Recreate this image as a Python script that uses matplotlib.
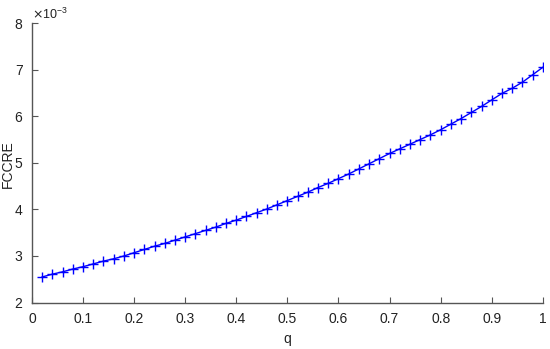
import matplotlib
matplotlib.use("Agg")
import matplotlib.pyplot as plt
from matplotlib.ticker import ScalarFormatter, FuncFormatter
import numpy as np

# data (FCCRE in units of 1e-3)
q = [0.02, 0.04, 0.06, 0.08, 0.10, 0.12, 0.14, 0.16, 0.18, 0.20,
     0.22, 0.24, 0.26, 0.28, 0.30, 0.32, 0.34, 0.36, 0.38, 0.40,
     0.42, 0.44, 0.46, 0.48, 0.50, 0.52, 0.54, 0.56, 0.58, 0.60,
     0.62, 0.64, 0.66, 0.68, 0.70, 0.72, 0.74, 0.76, 0.78, 0.80,
     0.82, 0.84, 0.86, 0.88, 0.90, 0.92, 0.94, 0.96, 0.98, 1.00]
fccre = [2.55, 2.61, 2.66, 2.72, 2.77, 2.83, 2.89, 2.94, 3.00, 3.07,
         3.14, 3.21, 3.27, 3.34, 3.41, 3.48, 3.55, 3.62, 3.70, 3.77,
         3.85, 3.93, 4.01, 4.10, 4.19, 4.28, 4.37, 4.47, 4.56, 4.66,
         4.76, 4.87, 4.98, 5.09, 5.20, 5.30, 5.40, 5.50, 5.60, 5.71,
         5.83, 5.95, 6.08, 6.21, 6.35, 6.49, 6.60, 6.73, 6.89, 7.05]
xticks = [0, 0.1, 0.2, 0.3, 0.4, 0.5, 0.6, 0.7, 0.8, 0.9, 1]
yticks = [2e-3, 3e-3, 4e-3, 5e-3, 6e-3, 7e-3, 8e-3]

plt.rcParams['font.family'] = ['Liberation Sans', 'DejaVu Sans']
plt.rcParams['font.size'] = 10

fig = plt.figure(figsize=(5.5, 3.49), dpi=100)
ax = fig.add_axes([0.058, 0.133, 0.929, 0.801])

ax.plot(q, np.array(fccre) * 1e-3, color='#0000ff', linewidth=1.0,
        marker='+', markersize=7, markeredgewidth=1.0)

ax.set_xlim(0, 1)
ax.set_ylim(2e-3, 8e-3)
ax.set_xticks(xticks)
ax.set_yticks(yticks)
ax.xaxis.set_major_formatter(FuncFormatter(lambda v, p: '%g' % v))
fmt = ScalarFormatter(useMathText=True)
fmt.set_powerlimits((0, 0))
ax.yaxis.set_major_formatter(fmt)

for s in ['top', 'right']:
    ax.spines[s].set_visible(False)
for s in ['left', 'bottom']:
    ax.spines[s].set_color('#555555')
    ax.spines[s].set_linewidth(1.0)
ax.tick_params(direction='in', length=4, color='#555555', labelcolor='#222222')
ax.tick_params(axis='x', pad=7)
ax.tick_params(axis='y', pad=6)
ax.yaxis.get_offset_text().set_color('#222222')
ax.yaxis.get_offset_text().set_fontsize(9)

ax.set_xlabel('q', color='#222222')
ax.set_ylabel('FCCRE', color='#222222')
ax.xaxis.set_label_coords(0.5, -0.105)
ax.yaxis.set_label_coords(-0.033, 0.495)

fig.savefig('out.png', dpi=100)
